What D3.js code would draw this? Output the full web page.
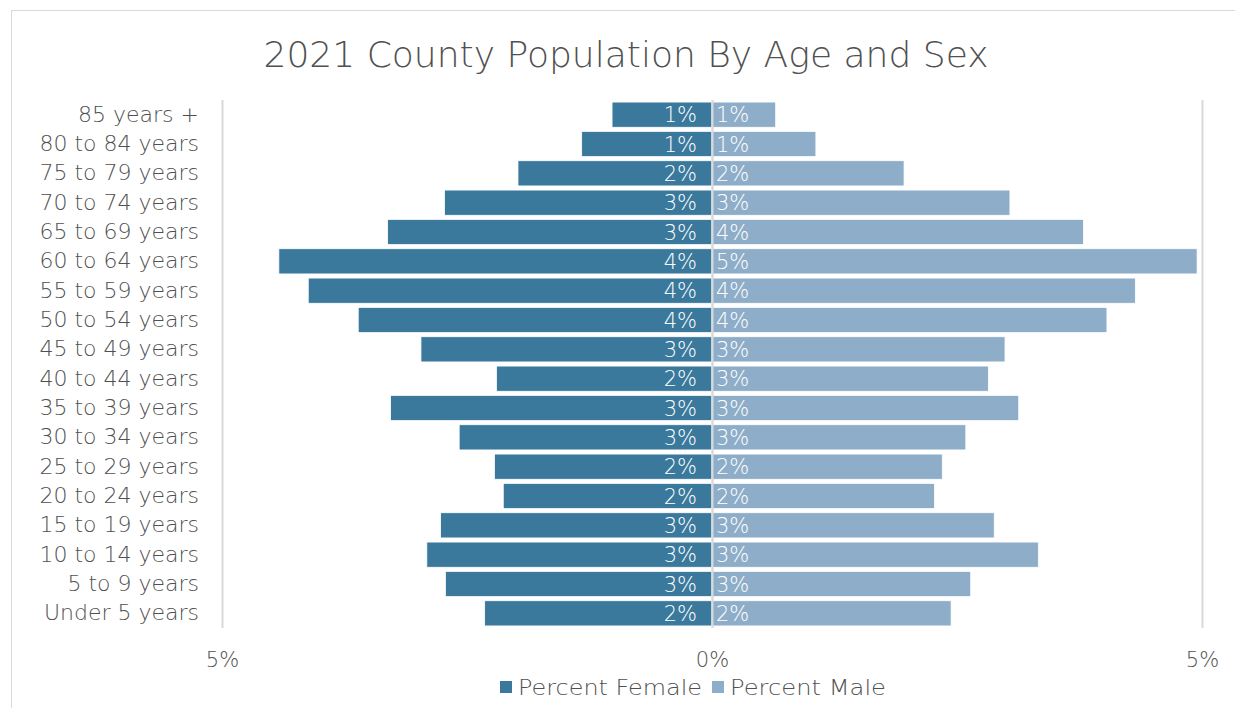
<!DOCTYPE html>
<html>
<head>
<meta charset="utf-8">
<script src="https://cdn.jsdelivr.net/npm/d3@7"></script>
<style>
  html, body { margin: 0; padding: 0; background: #fff; }
  svg { display: block; }
  text { font-family: "DejaVu Sans", sans-serif; font-weight: 200; }
</style>
</head>
<body>
<svg id="chart" width="1235" height="708"></svg>
<script>
const title = "2021 County Population By Age and Sex";
const categories = ["85 years +", "80 to 84 years", "75 to 79 years", "70 to 74 years", "65 to 69 years",
  "60 to 64 years", "55 to 59 years", "50 to 54 years", "45 to 49 years", "40 to 44 years",
  "35 to 39 years", "30 to 34 years", "25 to 29 years", "20 to 24 years", "15 to 19 years",
  "10 to 14 years", "5 to 9 years", "Under 5 years"];
const percentFemale = [1.02, 1.33, 1.98, 2.73, 3.31, 4.42, 4.12, 3.61, 2.97, 2.20, 3.28, 2.58, 2.22, 2.13, 2.77, 2.91, 2.72, 2.32];
const percentMale   = [0.65, 1.06, 1.96, 3.04, 3.79, 4.95, 4.32, 4.03, 2.99, 2.82, 3.13, 2.59, 2.35, 2.27, 2.88, 3.33, 2.64, 2.44];
const seriesNames = ["Percent Female", "Percent Male"];
const xTicks = [-5, 0, 5];

const colFemale = "#3a799c";
const colMale = "#8eadc8";
const textGray = "#505050";
const gridGray = "#d9d9d9";
const FONT = "'DejaVu Sans', sans-serif";

const svg = d3.select("#chart");

// chart border
svg.append("rect").attr("x", 11.5).attr("y", 10.5).attr("width", 1240).attr("height", 710)
  .attr("fill", "none").attr("stroke", "#d9d9d9").attr("stroke-width", 1);

const x = d3.scaleLinear().domain([-5, 5]).range([222, 1202]);
const y = d3.scaleBand().domain(categories).range([100, 628]).paddingInner(0.14).paddingOuter(0.07);

// title
svg.append("text").attr("x", 626).attr("y", 67).attr("text-anchor", "middle")
  .attr("font-size", 36).attr("fill", textGray)
  .attr("textLength", 725).attr("lengthAdjust", "spacingAndGlyphs").text(title);

// gridlines
svg.append("g").selectAll("line").data(xTicks).join("line")
  .attr("x1", d => x(d) + 0.5).attr("x2", d => x(d) + 0.5)
  .attr("y1", 100).attr("y2", 628)
  .attr("stroke", gridGray).attr("stroke-width", 2);

// x axis
const xAxis = d3.axisBottom(x).tickValues(xTicks).tickSize(0).tickFormat(d => Math.abs(d) + "%");
const gx = svg.append("g").attr("transform", "translate(0,649)").call(xAxis);
gx.select(".domain").remove();
gx.selectAll("text").attr("font-size", 21).attr("fill", textGray).attr("font-family", FONT);

// y axis
const yAxis = d3.axisLeft(y).tickSize(0).tickPadding(0);
const gy = svg.append("g").attr("transform", "translate(199,0)").call(yAxis);
gy.select(".domain").remove();
gy.selectAll("text").attr("font-size", 22).attr("fill", textGray).attr("font-family", FONT);

// bars
svg.append("g").selectAll("rect").data(categories).join("rect")
  .attr("x", (d, i) => x(-percentFemale[i]))
  .attr("y", d => y(d))
  .attr("width", (d, i) => x(0) - x(-percentFemale[i]))
  .attr("height", y.bandwidth())
  .attr("fill", colFemale).attr("stroke", "#fff").attr("stroke-width", 0.8);

svg.append("g").selectAll("rect").data(categories).join("rect")
  .attr("x", x(0))
  .attr("y", d => y(d))
  .attr("width", (d, i) => x(percentMale[i]) - x(0))
  .attr("height", y.bandwidth())
  .attr("fill", colMale).attr("stroke", "#fff").attr("stroke-width", 0.8);

// zero line over bars
svg.append("line").attr("x1", x(0) + 0.5).attr("x2", x(0) + 0.5).attr("y1", 100).attr("y2", 628)
  .attr("stroke", gridGray).attr("stroke-width", 2);

// value labels
svg.append("g").selectAll("text").data(categories).join("text")
  .attr("x", x(0) - 15).attr("y", d => y(d) + y.bandwidth() / 2).attr("dy", "0.36em")
  .attr("text-anchor", "end").attr("font-size", 21).attr("fill", "#fff")
  .text((d, i) => Math.round(percentFemale[i]) + "%");

svg.append("g").selectAll("text").data(categories).join("text")
  .attr("x", x(0) + 4).attr("y", d => y(d) + y.bandwidth() / 2).attr("dy", "0.36em")
  .attr("text-anchor", "start").attr("font-size", 21).attr("fill", "#fff")
  .text((d, i) => Math.round(percentMale[i]) + "%");

// legend
const legend = svg.append("g");
const legItems = [{name: seriesNames[0], color: colFemale, x: 500, w: 184}, {name: seriesNames[1], color: colMale, x: 712, w: 156}];
legItems.forEach(it => {
  legend.append("rect").attr("x", it.x).attr("y", 681).attr("width", 12).attr("height", 12).attr("fill", it.color);
  legend.append("text").attr("x", it.x + 18).attr("y", 687).attr("dy", "0.36em")
    .attr("font-size", 21).attr("fill", textGray)
    .attr("textLength", it.w).attr("lengthAdjust", "spacingAndGlyphs").text(it.name);
});
</script>
</body>
</html>
